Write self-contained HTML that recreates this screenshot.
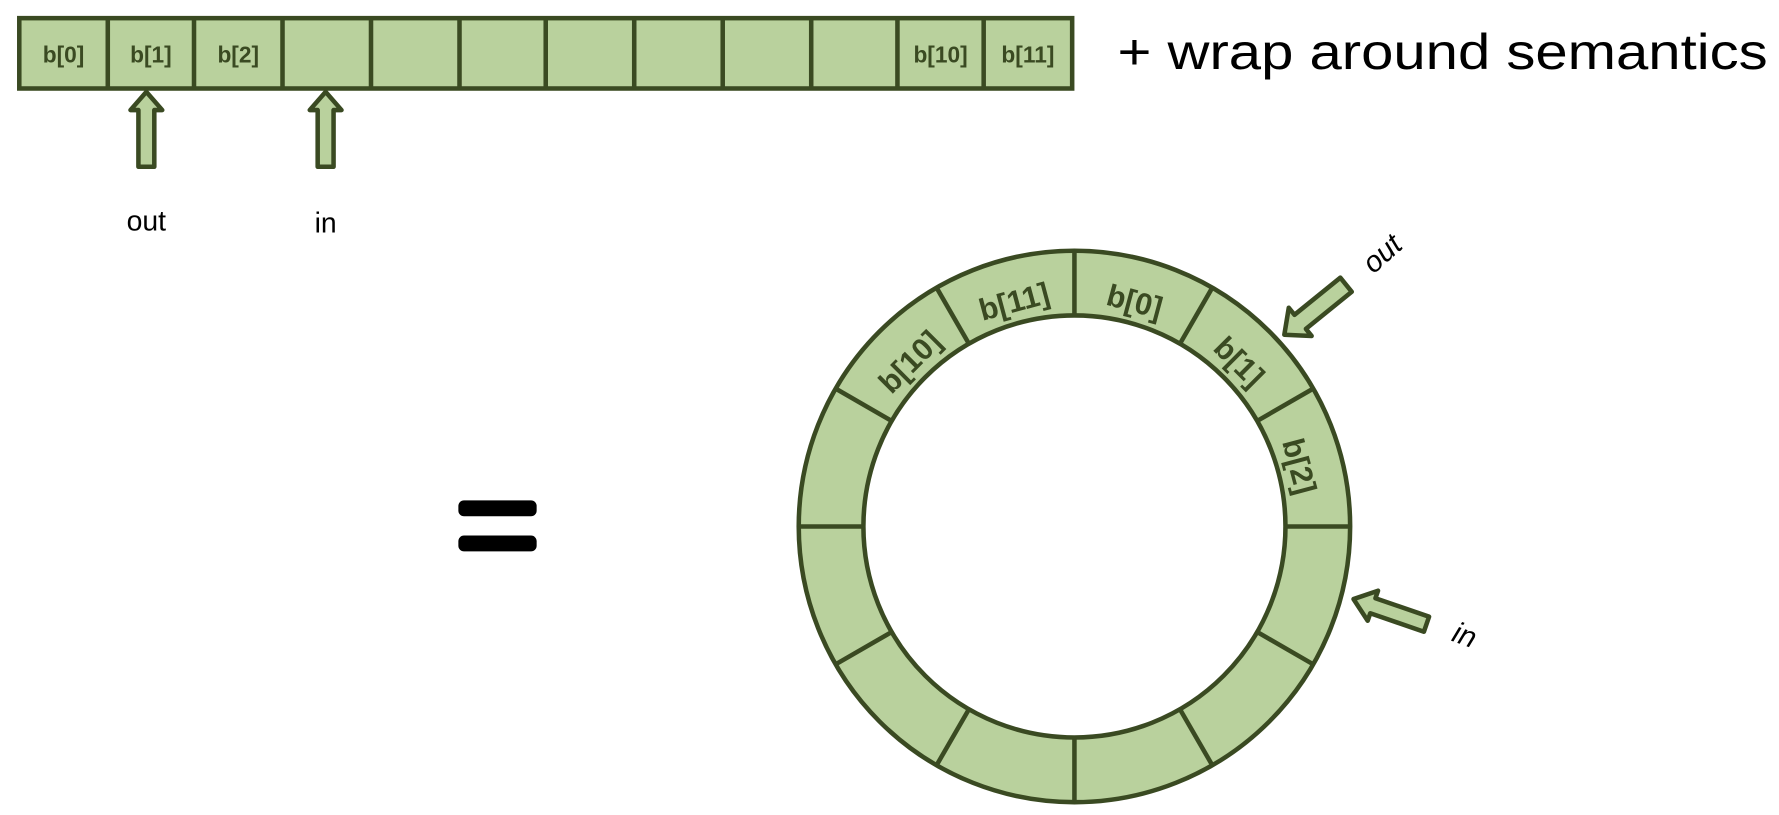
<!DOCTYPE html>
<html><head><meta charset="utf-8"><style>html,body{margin:0;padding:0;background:#fff}svg{display:block}</style></head>
<body>
<svg width="1779" height="815" viewBox="0 0 1568 718.3" preserveAspectRatio="none" xmlns="http://www.w3.org/2000/svg" font-family="Liberation Sans, sans-serif">
<g fill="#b9d19d" stroke="#3a4a22" stroke-width="4">
<rect x="17" y="16" width="928" height="62"/>
</g>
<g stroke="#3a4a22" stroke-width="4">
<line x1="95" y1="16" x2="95" y2="78"/><line x1="171" y1="16" x2="171" y2="78"/><line x1="249" y1="16" x2="249" y2="78"/><line x1="327" y1="16" x2="327" y2="78"/><line x1="405" y1="16" x2="405" y2="78"/><line x1="481" y1="16" x2="481" y2="78"/><line x1="559" y1="16" x2="559" y2="78"/><line x1="637" y1="16" x2="637" y2="78"/><line x1="715" y1="16" x2="715" y2="78"/><line x1="791" y1="16" x2="791" y2="78"/><line x1="867" y1="16" x2="867" y2="78"/>
</g>
<g fill="#3a4a22" font-weight="bold" font-size="20" text-anchor="middle">
<text x="56" y="55">b[0]</text><text x="133" y="55">b[1]</text><text x="210" y="55">b[2]</text><text x="829" y="55">b[10]</text><text x="906" y="55">b[11]</text>
</g>
<text x="985" y="61" font-size="44" fill="#000" textLength="573" lengthAdjust="spacingAndGlyphs">+ wrap around semantics</text>
<g fill="#b9d19d" stroke="#3a4a22" stroke-width="4" stroke-linejoin="round">
<path d="M129,81 L143,97 L136,97 L136,147 L122,147 L122,97 L115,97 Z"/>
<path d="M287,81 L301,97 L294,97 L294,147 L280,147 L280,97 L273,97 Z"/>
</g>
<text x="129" y="203" font-size="25" text-anchor="middle">out</text>
<text x="287" y="205" font-size="25" text-anchor="middle">in</text>
<rect x="404" y="441" width="69" height="14" rx="5" fill="#000"/>
<rect x="404" y="472" width="69" height="14" rx="5" fill="#000"/>
<g stroke="#3a4a22" stroke-width="4">
<circle cx="947" cy="464" r="214.5" fill="none" stroke="#b9d19d" stroke-width="57"/>
<circle cx="947" cy="464" r="243" fill="none"/>
<circle cx="947" cy="464" r="186" fill="#fff"/>
<g id="d">
<line x1="947" y1="221" x2="947" y2="278"/>
</g>
<use href="#d" transform="rotate(30 947 464)"/><use href="#d" transform="rotate(60 947 464)"/><use href="#d" transform="rotate(90 947 464)"/><use href="#d" transform="rotate(120 947 464)"/><use href="#d" transform="rotate(150 947 464)"/><use href="#d" transform="rotate(180 947 464)"/><use href="#d" transform="rotate(210 947 464)"/><use href="#d" transform="rotate(240 947 464)"/><use href="#d" transform="rotate(270 947 464)"/><use href="#d" transform="rotate(300 947 464)"/><use href="#d" transform="rotate(330 947 464)"/>
</g>
<g fill="#3a4a22" font-weight="bold" font-size="27" text-anchor="middle">
<text transform="rotate(15 947 464)" x="947" y="268">b[0]</text>
<text transform="rotate(45 947 464)" x="947" y="268">b[1]</text>
<text transform="rotate(75 947 464)" x="947" y="268">b[2]</text>
<text transform="rotate(-15 947 464)" x="947" y="268">b[11]</text>
<text transform="rotate(-45 947 464)" x="947" y="268">b[10]</text>
</g>
<g fill="#b9d19d" stroke="#3a4a22" stroke-width="4" stroke-linejoin="round">
<path transform="translate(1132,295) rotate(-39)" d="M0,0 L18,-16 L18,-8 L70,-8 L70,8 L18,8 L18,16 Z"/>
<path transform="translate(1193,528) rotate(19)" d="M0,0 L18,-14 L18,-7 L68,-7 L68,7 L18,7 L18,14 Z"/>
</g>
<text transform="translate(1224,230) rotate(-42)" font-size="26" font-style="italic" text-anchor="middle">out</text>
<text transform="translate(1288,568) rotate(20)" font-size="26" font-style="italic" text-anchor="middle">in</text>
</svg>
</body></html>
